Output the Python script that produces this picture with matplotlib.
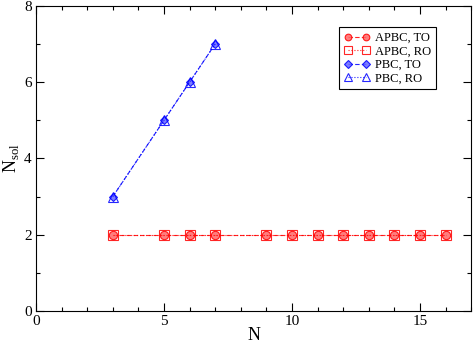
import numpy as np
import matplotlib.pyplot as plt
from matplotlib.ticker import MultipleLocator

plt.rcParams['font.family'] = ['Liberation Serif', 'DejaVu Serif']
plt.rcParams['mathtext.fontset'] = 'custom'
plt.rcParams['mathtext.rm'] = 'Liberation Serif'

# Data
N_apbc = [3, 5, 6, 7, 9, 10, 11, 12, 13, 14, 15, 16]
Nsol_apbc_to = [2, 2, 2, 2, 2, 2, 2, 2, 2, 2, 2, 2]
Nsol_apbc_ro = [2, 2, 2, 2, 2, 2, 2, 2, 2, 2, 2, 2]
N_pbc = [3, 5, 6, 7]
Nsol_pbc_to = [3, 5, 6, 7]
Nsol_pbc_ro = [3, 5, 6, 7]

Red = (1, 0, 0)
Blue = (0, 0, 1)

Figure = plt.figure(figsize=(4.74, 3.44), dpi=100)
Axes = Figure.add_axes([0.076, 0.096, 0.918, 0.887])

Axes.plot(N_apbc, Nsol_apbc_to, color=Red, linestyle='--', dashes=(4, 2), linewidth=0.8,
          marker='o', markersize=6, markerfacecolor=(1, 0.4, 0.4), markeredgecolor=Red,
          markeredgewidth=0.8, alpha=0.85, label='APBC, TO')
Axes.plot(N_apbc, Nsol_apbc_ro, color=Red, linestyle=':', linewidth=0.8,
          marker='s', markersize=7, markerfacecolor='none', markeredgecolor=Red,
          markeredgewidth=0.8, alpha=0.85, label='APBC, RO')
Axes.plot(N_pbc, Nsol_pbc_to, color=Blue, linestyle='--', dashes=(4, 2), linewidth=0.8,
          marker='D', markersize=4.5, markerfacecolor=(0.4, 0.4, 1), markeredgecolor=Blue,
          markeredgewidth=0.8, alpha=0.85, label='PBC, TO')
Axes.plot(N_pbc, Nsol_pbc_ro, color=Blue, linestyle=':', linewidth=0.8,
          marker='^', markersize=7, markerfacecolor='none', markeredgecolor=Blue,
          markeredgewidth=0.8, alpha=0.85, label='PBC, RO')

Axes.set_xlim([0, 17])
Axes.set_ylim([0, 8])
Axes.xaxis.set_major_locator(MultipleLocator(5))
Axes.xaxis.set_minor_locator(MultipleLocator(1))
Axes.yaxis.set_major_locator(MultipleLocator(2))
Axes.yaxis.set_minor_locator(MultipleLocator(1))
Axes.tick_params(which='both', direction='in', top=True, right=True, labelsize=11, pad=3)
Axes.tick_params(which='major', length=6, width=0.8)
Axes.tick_params(which='minor', length=3, width=0.8)
for Spine in Axes.spines.values():
    Spine.set_linewidth(0.8)

Axes.set_xlabel('N', fontsize=13, labelpad=-1)
Axes.set_ylabel(r'N$_{\mathrm{sol}}$', fontsize=13, labelpad=2)

Legend = Axes.legend(loc='upper right', bbox_to_anchor=(0.92, 0.931), fontsize=9,
                     numpoints=2, markerscale=0.8,
                     frameon=True, fancybox=False, edgecolor='black', handlelength=2.1,
                     handletextpad=0.4, borderpad=0.4, labelspacing=0.12, borderaxespad=0,
                     framealpha=1)
Legend.get_frame().set_linewidth(0.8)

Figure.savefig('out.png', dpi=100)
plt.close(Figure)
